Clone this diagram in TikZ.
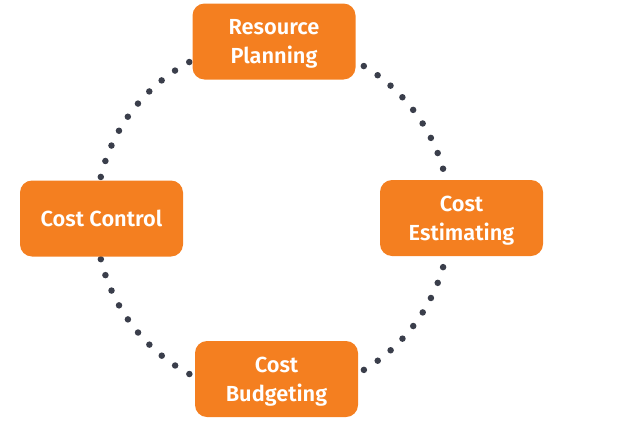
\documentclass[tikz,border=0pt]{standalone}
\usepackage{fontspec}
\setmainfont{Fira Sans SemiBold}
\definecolor{boxorange}{HTML}{F47F20}
\definecolor{dotgray}{HTML}{3A3E4B}
\begin{document}
\begin{tikzpicture}[x=1pt,y=-1pt,
  stepbox/.style={fill=boxorange, draw=none, rounded corners=12pt,
    minimum width=163pt, minimum height=76pt, inner sep=0pt,
    text depth=0pt,
    text=white, align=center, font=\fontsize{21.8}{29.3}\selectfont},
  dotring/.style={dotgray, line width=6.5pt, line cap=round,
    dash pattern=on 0pt off 16.599pt}]
\useasboundingbox (0,0) rectangle (626,423);
\coordinate (c) at (273,218);
\draw[dotring] (c) circle[radius=177];
\node[stepbox] (rp) at (274,41.5) {Resource\\Planning};
\node[stepbox] (ce) at (461.5,218) {Cost\\Estimating};
\node[stepbox] (cb) at (276.5,379) {Cost\\Budgeting};
\node[stepbox] (cc) at (101.5,218.5) {Cost Control};
\end{tikzpicture}
\end{document}
